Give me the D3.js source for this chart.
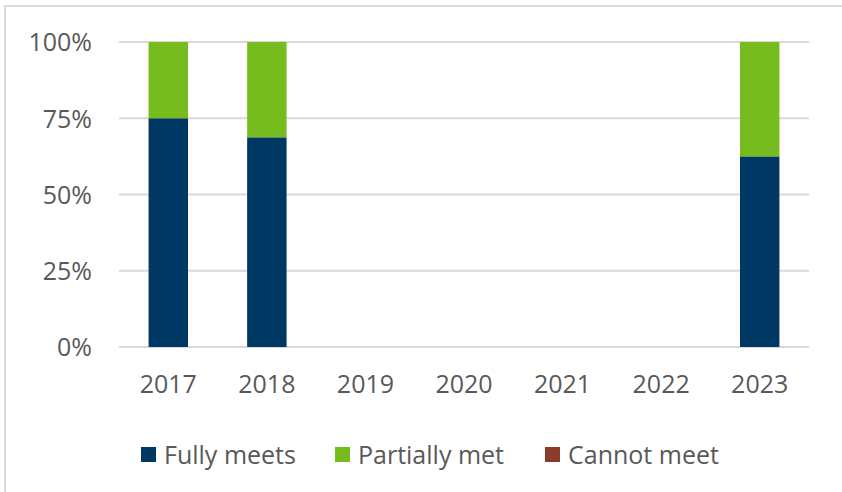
<!DOCTYPE html>
<html><head><meta charset="utf-8">
<script src="https://cdn.jsdelivr.net/npm/d3@7"></script>
<style>html,body{margin:0;padding:0;background:#fff;overflow:hidden}</style>
</head><body>
<svg id="c" width="842" height="492"></svg>
<script>
const years = ["2017","2018","2019","2020","2021","2022","2023"];
const fullyMeets   = [0.75, 0.6875, 0, 0, 0, 0, 0.625];
const partiallyMet = [0.25, 0.3125, 0, 0, 0, 0, 0.375];
const cannotMeet   = [0, 0, 0, 0, 0, 0, 0];
const seriesNames = ["Fully meets","Partially met","Cannot meet"];
const seriesColors = ["#003864","#77bc1f","#8b3a2b"];
const yTicks = [0, 0.25, 0.5, 0.75, 1];

const svg = d3.select("#c");
const font = "'Open Sans', sans-serif";
const textColor = "#595959";

// frame
svg.append("rect").attr("x",5).attr("y",6).attr("width",900).attr("height",600)
  .attr("fill","none").attr("stroke","#d9d9d9").attr("stroke-width",2);

const x = d3.scaleBand().domain(years).range([119, 809]).paddingInner(0.6).paddingOuter(0.3);
const y = d3.scaleLinear().domain([0,1]).range([347, 42]);

// gridlines
svg.append("g").selectAll("line").data(yTicks).join("line")
  .attr("x1",119).attr("x2",809)
  .attr("y1",d=>y(d)).attr("y2",d=>y(d))
  .attr("stroke","#d9d9d9").attr("stroke-width",2);

// y axis labels
const yAxis = d3.axisLeft(y).tickValues(yTicks).tickFormat(d3.format(".0%")).tickSize(0).tickPadding(0);
const gy = svg.append("g").attr("transform","translate(92,0)").call(yAxis);
gy.select(".domain").remove();
gy.selectAll("text").attr("font-family",font).attr("font-size",25).attr("fill",textColor).attr("dy","0.35em");

// x axis labels
const xAxis = d3.axisBottom(x).tickSize(0).tickPadding(0);
const gx = svg.append("g").attr("transform","translate(0,375)").call(xAxis);
gx.select(".domain").remove();
gx.selectAll("text").attr("font-family",font).attr("font-size",25).attr("fill",textColor).attr("dy","0.71em");

// stacked data
const rows = years.map((yr,i)=>({year:yr, "Fully meets":fullyMeets[i], "Partially met":partiallyMet[i], "Cannot meet":cannotMeet[i]}));
const stack = d3.stack().keys(seriesNames)(rows);
svg.append("g").selectAll("g").data(stack).join("g")
  .attr("fill",(d,i)=>seriesColors[i])
  .selectAll("rect").data(d=>d).join("rect")
  .attr("x",d=>x(d.data.year))
  .attr("width",x.bandwidth())
  .attr("y",d=>y(d[1]))
  .attr("height",d=>y(d[0])-y(d[1]));

// legend
const legendX = [141, 335, 545];
const lg = svg.append("g").selectAll("g").data(seriesNames).join("g")
  .attr("transform",(d,i)=>`translate(${legendX[i]},447)`);
lg.append("rect").attr("width",15).attr("height",15).attr("fill",(d,i)=>seriesColors[i]);
lg.append("text").attr("x",23).attr("y",8).attr("dy","0.35em")
  .attr("font-family",font).attr("font-size",25).attr("fill",textColor).text(d=>d);
</script>
</body></html>
